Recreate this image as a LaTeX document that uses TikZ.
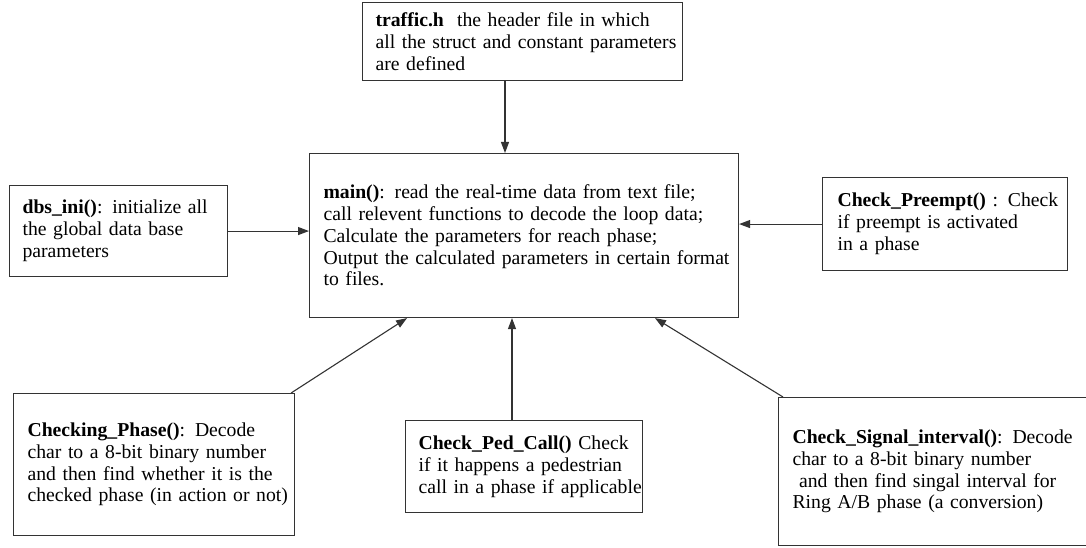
\documentclass[tikz,border=0pt]{standalone}
\usepackage{fontspec}
\setmainfont{Liberation Serif}
\usetikzlibrary{arrows.meta,calc}
\begin{document}
\begin{tikzpicture}[x=1pt,y=-1pt,
  box/.style={draw=black!80, line width=1.1pt, rectangle, anchor=north west,
    inner xsep=0pt, inner ysep=0pt, align=left,
    font=\fontsize{19.7}{21.8}\selectfont},
  lmargin/.style={execute at begin node={\leftskip=#1pt\relax}},
  link/.style={draw=black!80, line width=1.1pt, -{Triangle[length=11pt,width=8pt]}}]
\useasboundingbox (0,0) rectangle (1086,548);
\clip (0,0) rectangle (1086,548);

% module boxes
\node[box, lmargin=13, text width=320pt, minimum height=78pt] (top) at (362,2)
  {\textbf{traffic.h}\ \ the header file in which\\all the struct and constant parameters\\are defined};
\node[box, lmargin=14, text width=429pt, minimum height=164pt] (main) at (309,153)
  {\textbf{main()}: read the real-time data from text file;\\call relevent functions to decode the loop data;\\Calculate the parameters for reach phase;\\Output the calculated parameters in certain format\\to files.};
\node[box, lmargin=13, text width=218pt, minimum height=91pt] (dbs) at (9,185)
  {\textbf{dbs\_ini()}: initialize all\\the global data base\\parameters};
\node[box, lmargin=15, text width=245pt, minimum height=93pt] (pre) at (822,177)
  {\textbf{Check\_Preempt()} : Check\\if preempt is activated\\in a phase};
\node[box, lmargin=14, text width=281pt, minimum height=142pt] (chk) at (13,393)
  {\textbf{Checking\_Phase()}: Decode\\char to a 8-bit binary number\\and then find whether it is the\\checked phase (in action or not)};
\node[box, lmargin=13, text width=237pt, minimum height=92pt] (ped) at (405,420)
  {\textbf{Check\_Ped\_Call()} Check\\if it happens a pedestrian\\call in a phase if applicable};
\node[box, lmargin=14, text width=330pt, minimum height=148pt] (sig) at (778,397)
  {\textbf{Check\_Signal\_interval()}: Decode\\char to a 8-bit binary number\\\mbox{}\ and then find singal interval for\\Ring A/B phase (a conversion)};

% arrow positions along the main box
\coordinate (xT) at (505,0);
\coordinate (xA) at (407,0);
\coordinate (xB) at (512,0);
\coordinate (xC) at (655,0);

% calls into main()
\draw[link] (top.south -| xT) -- (main.north -| xT);
\draw[link] (dbs.east) -- (main.west |- dbs.east);
\draw[link] (pre.west) -- (main.east |- pre.west);
\draw[link] ($(chk.north east)+(-4,0)$) -- (main.south -| xA);
\draw[link] (ped.north -| xB) -- (main.south -| xB);
\draw[link] ($(sig.north west)+(5,0)$) -- (main.south -| xC);
\end{tikzpicture}
\end{document}
